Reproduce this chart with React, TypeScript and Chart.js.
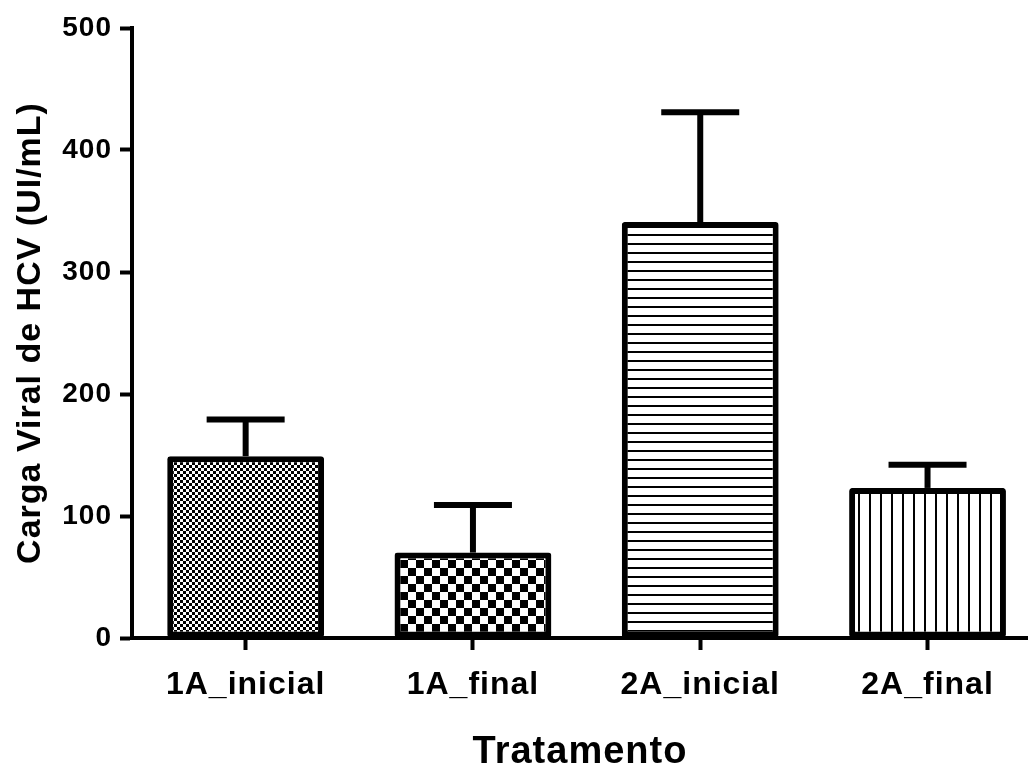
import React, { useEffect, useRef } from "react";
import { Chart, registerables } from "chart.js";

Chart.register(...registerables);

const categories = ["1A_inicial", "1A_final", "2A_inicial", "2A_final"];
const means = [149, 70, 341, 123];
const errorsUp = [30, 39, 90, 19];
const yTicks = [0, 100, 200, 300, 400, 500];

const FONT = "'Liberation Sans', Arial, sans-serif";

function makePattern(kind: string): CanvasPattern | string {
  const c = document.createElement("canvas");
  const g = c.getContext("2d");
  if (!g) return "#fff";
  if (kind === "fine") {
    c.width = 6; c.height = 6;
    g.fillStyle = "#fff"; g.fillRect(0, 0, 6, 6);
    g.fillStyle = "#000"; g.fillRect(0, 0, 3, 3); g.fillRect(3, 3, 3, 3);
  } else if (kind === "coarse") {
    c.width = 16; c.height = 16;
    g.fillStyle = "#fff"; g.fillRect(0, 0, 16, 16);
    g.fillStyle = "#000"; g.fillRect(0, 0, 8, 8); g.fillRect(8, 8, 8, 8);
  } else if (kind === "hlines") {
    c.width = 4; c.height = 9;
    g.fillStyle = "#fff"; g.fillRect(0, 0, 4, 9);
    g.fillStyle = "#000"; g.fillRect(0, 0, 4, 2);
  } else {
    c.width = 11; c.height = 4;
    g.fillStyle = "#fff"; g.fillRect(0, 0, 11, 4);
    g.fillStyle = "#000"; g.fillRect(0, 0, 2, 4);
  }
  return g.createPattern(c, "repeat") || "#fff";
}

const spacingPlugin = {
  id: "letterSpacing",
  beforeDraw(chart: any) {
    (chart.ctx as any).letterSpacing = "1px";
  },
  afterDraw(chart: any) {
    (chart.ctx as any).letterSpacing = "0px";
  },
};

const errorBarPlugin = {
  id: "errorBars",
  afterDatasetsDraw(chart: any) {
    const { ctx, scales } = chart;
    const xs = scales.x;
    const ys = scales.y;
    ctx.save();
    ctx.strokeStyle = "#000";
    ctx.lineWidth = 6;
    ctx.lineCap = "butt";
    means.forEach((m, i) => {
      const x = xs.getPixelForValue(i);
      const yb = ys.getPixelForValue(m);
      const yt = ys.getPixelForValue(m + errorsUp[i]);
      ctx.beginPath();
      ctx.moveTo(x, yb);
      ctx.lineTo(x, yt);
      ctx.stroke();
      ctx.beginPath();
      ctx.moveTo(x - 39, yt);
      ctx.lineTo(x + 39, yt);
      ctx.stroke();
    });
    ctx.restore();
  },
};

export default function App() {
  const ref = useRef<HTMLCanvasElement | null>(null);
  useEffect(() => {
    document.body.style.margin = "0";
    const canvas = ref.current;
    if (!canvas) return;
    const patterns = [
      makePattern("fine"),
      makePattern("coarse"),
      makePattern("hlines"),
      makePattern("vlines"),
    ];
    const chart = new Chart(canvas, {
      type: "bar",
      data: {
        datasets: [
          {
            data: means.map((v, i) => ({ x: i, y: v })),
            backgroundColor: patterns as any,
            borderColor: "#000",
            borderWidth: 6,
            borderRadius: 3,
            borderSkipped: false,
            barPercentage: 0.69,
            categoryPercentage: 1,
          },
        ],
      },
      options: {
        responsive: false,
        animation: false,
        layout: { padding: { top: 28, right: 0, bottom: 0, left: 0 } },
        plugins: { legend: { display: false }, tooltip: { enabled: false } },
        scales: {
          x: {
            type: "linear",
            offset: false,
            min: -0.5,
            max: 3.442,
            afterBuildTicks: (s: any) => {
              s.ticks = categories.map((_, i) => ({ value: i }));
            },
            afterFit: (s: any) => {
              s.height = 137;
            },
            ticks: {
              callback: (v: any) => categories[v] ?? "",
              color: "#000",
              font: { family: FONT, size: 32, weight: "bold" },
              padding: 16,
              maxRotation: 0,
              autoSkip: false,
            },
            grid: {
              display: true,
              offset: false,
              drawOnChartArea: false,
              drawTicks: true,
              tickLength: 12,
              tickWidth: 4,
              color: "#000",
            },
            border: { display: true, color: "#000", width: 4 },
            title: {
              display: true,
              text: "Tratamento",
              color: "#000",
              font: { family: FONT, size: 38, weight: "bold" },
              padding: { top: 0, bottom: 0 },
            },
          },
          y: {
            min: 0,
            max: 500,
            afterBuildTicks: (s: any) => {
              s.ticks = yTicks.map((v) => ({ value: v }));
            },
            afterFit: (s: any) => {
              s.width = 132;
            },
            ticks: {
              color: "#000",
              font: { family: FONT, size: 28, weight: "bold" },
              padding: 8,
            },
            grid: {
              display: true,
              drawOnChartArea: false,
              drawTicks: true,
              tickLength: 12,
              tickWidth: 4,
              color: "#000",
            },
            border: { display: true, color: "#000", width: 4 },
            title: {
              display: true,
              text: "Carga Viral de HCV (UI/mL)",
              color: "#000",
              font: { family: FONT, size: 34, weight: "bold" },
              padding: { top: 10, bottom: 0 },
            },
          },
        },
      },
      plugins: [spacingPlugin, errorBarPlugin],
    });
    return () => chart.destroy();
  }, []);
  return (
    <div style={{ width: 1028, height: 775 }}>
      <canvas ref={ref} width={1028} height={775} style={{ display: "block" }} />
    </div>
  );
}
